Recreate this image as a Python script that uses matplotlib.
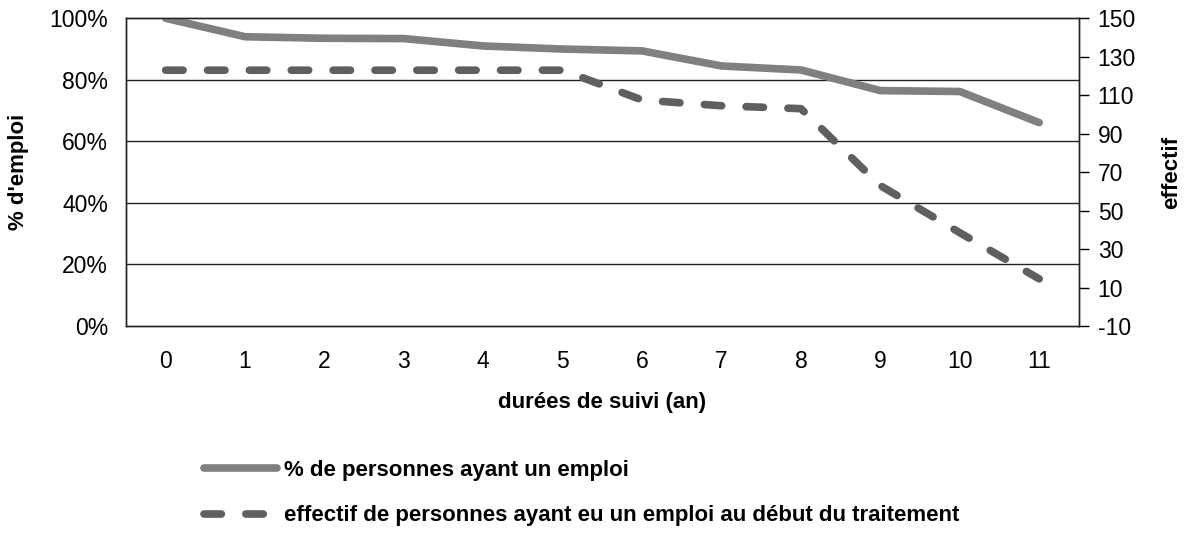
import matplotlib
matplotlib.use('Agg')
import matplotlib.pyplot as plt

plt.rcParams['font.family'] = ['Liberation Sans', 'DejaVu Sans']
plt.rcParams['axes.unicode_minus'] = False

years = list(range(12))
pct_emploi = [100, 94.0, 93.5, 93.4, 91.0, 90.0, 89.4, 84.5, 83.2, 76.5, 76.2, 66.1]
effectif = [123, 123, 123, 123, 123, 123, 107.5, 104.5, 103, 63, 38.5, 14.5]

fig = plt.figure(figsize=(11.86, 5.36), dpi=100)
ax = fig.add_axes([0.1062, 0.3918, 0.8035, 0.5741])
ax2 = ax.twinx()

ax.plot(years, pct_emploi, color='#808080', lw=5.5, solid_capstyle='round',
        label="% de personnes ayant un emploi", zorder=3)
ax2.plot(years, effectif, color='#5f5f5f', lw=5.5, ls=(0, (2.28, 3.2)),
         dash_capstyle='round', label="effectif de personnes ayant eu un emploi au début du traitement")

ax.set_xlim(-0.5, 11.5)
ax.set_ylim(0, 100)
ax.set_yticks([0, 20, 40, 60, 80, 100])
ax.set_yticklabels(['0%', '20%', '40%', '60%', '80%', '100%'])
ax.set_xticks(years)
ax.tick_params(axis='x', length=0, labelsize=16.5, pad=17)
ax.tick_params(axis='y', length=0, labelsize=16.5, pad=13)
for y in [20, 40, 60, 80]:
    ax.axhline(y, color='#222222', lw=1, zorder=1)

ax2.set_ylim(-10, 150)
ax2.set_yticks(range(-10, 151, 20))
ax2.tick_params(axis='y', length=7, width=1, labelsize=16.5, pad=6.5)

for a in (ax, ax2):
    for s in a.spines.values():
        s.set_color('#222222')
        s.set_linewidth(1)

ax.set_xlabel('durées de suivi (an)', fontsize=16, fontweight='bold')
ax.xaxis.set_label_coords(0.5, -0.25)
ax.xaxis.label.set_verticalalignment('center')
ax.set_ylabel("% d'emploi", fontsize=16, fontweight='bold')
ax.yaxis.set_label_coords(-0.113, 0.5)
ax.yaxis.label.set_verticalalignment('center')
ax2.set_ylabel('effectif', fontsize=16, fontweight='bold')
ax2.yaxis.set_label_coords(1.0975, 0.5)
ax2.yaxis.label.set_verticalalignment('center')

h1, l1 = ax.get_legend_handles_labels()
h2, l2 = ax2.get_legend_handles_labels()
fig.legend(h1 + h2, l1 + l2, loc='upper left', bbox_to_anchor=(0.172, 0.142),
           frameon=False, prop={'weight': 'bold', 'size': 16},
           handlelength=3.3, handletextpad=0.3, labelspacing=1.1,
           borderpad=0, borderaxespad=0)

fig.savefig('out.png', dpi=100)
